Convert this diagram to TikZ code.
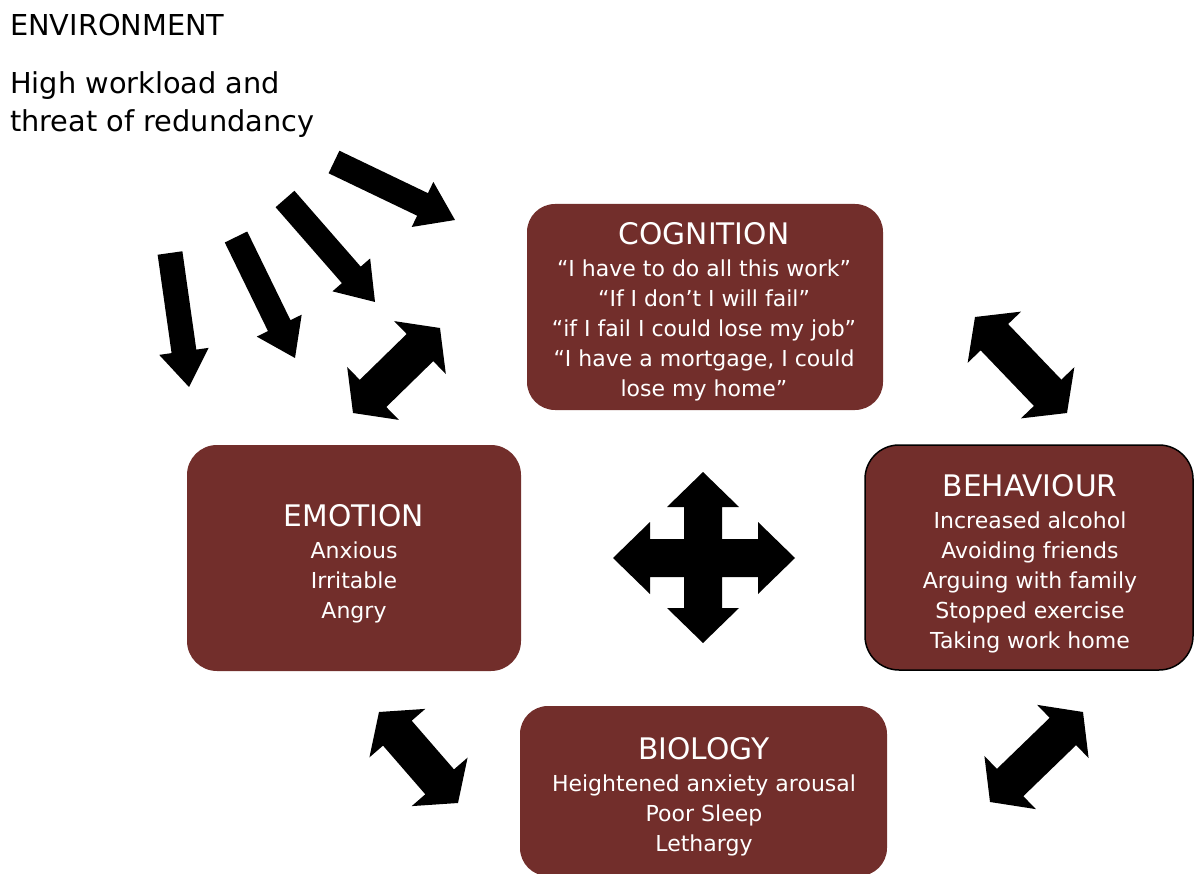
\documentclass[tikz,border=0pt]{standalone}
\usepackage{fontspec}
\setmainfont{DejaVu Sans}
\usetikzlibrary{calc}
\definecolor{boxred}{RGB}{114,46,43}

% single-headed block arrow: #1 tail, #2 tip, #3 shaft half width, #4 head half width, #5 head length
\newcommand{\blockarrow}[5]{%
  \coordinate (hb) at ($(#2)!#5!(#1)$);
  \fill[black] ($(#1)!#3!90:(#2)$) -- ($(hb)!#3!-90:(#1)$) -- ($(hb)!#4!-90:(#1)$) -- (#2)
     -- ($(hb)!#4!90:(#1)$) -- ($(hb)!#3!90:(#1)$) -- ($(#1)!#3!-90:(#2)$) -- cycle;
}
% double-headed block arrow
\newcommand{\dblarrow}[5]{%
  \coordinate (ha) at ($(#1)!#5!(#2)$);
  \coordinate (hb) at ($(#2)!#5!(#1)$);
  \fill[black] (#1) -- ($(ha)!#4!90:(#2)$) -- ($(ha)!#3!90:(#2)$) -- ($(hb)!#3!-90:(#1)$)
     -- ($(hb)!#4!-90:(#1)$) -- (#2) -- ($(hb)!#4!90:(#1)$) -- ($(hb)!#3!90:(#1)$)
     -- ($(ha)!#3!-90:(#2)$) -- ($(ha)!#4!-90:(#2)$) -- cycle;
}

\begin{document}
\begin{tikzpicture}[x=1pt,y=-1pt,
  box/.style={fill=boxred, rounded corners=28pt, inner sep=0pt},
  boxtext/.style={text=white, align=center, inner sep=0pt,
    font=\fontsize{22}{30}\selectfont},
  boxtitle/.style={font=\fontsize{29.7}{30}\selectfont},
  envtext/.style={text=black, align=left, inner sep=0pt,
    font=\fontsize{28.8}{38}\selectfont}]
\useasboundingbox (0,0) rectangle (1194,874);

% environment text
\node[envtext, anchor=base west] (env) at (10,36) {ENVIRONMENT};
\node[envtext, anchor=base west] (envA) at (10,94) {High workload and};
\node[envtext, anchor=base west] (envB) at (10,132) {threat of redundancy};

% boxes
\node[box, minimum width=356pt, minimum height=206pt] (cogbox) at (705,307) {};
\node[box, minimum width=334pt, minimum height=226pt, rounded corners=30pt] (emobox) at (354,558) {};
\node[box, draw=black, line width=1.5pt, minimum width=328pt, minimum height=225pt, rounded corners=34pt] (behbox) at (1029,557.5) {};
\node[box, minimum width=367pt, minimum height=170pt] (biobox) at (703.5,791) {};

% box texts
\node[boxtext] (cogtext) at (704,312) {{\fontsize{29.7}{30}\selectfont COGNITION}\\[2pt]
  “I have to do all this work”\\
  “If I don’t I will fail”\\
  “if I fail I could lose my job”\\
  “I have a mortgage, I could\\
  lose my home”};
\node[boxtext] (emotext) at (354,564) {{\fontsize{29.7}{30}\selectfont EMOTION}\\[2pt]
  Anxious\\ Irritable\\ Angry};
\node[boxtext] (behtext) at (1030,564) {{\fontsize{29.7}{30}\selectfont BEHAVIOUR}\\[2pt]
  Increased alcohol\\ Avoiding friends\\ Arguing with family\\ Stopped exercise\\ Taking work home};
\node[boxtext] (biotext) at (704,796.5) {{\fontsize{29.7}{30}\selectfont BIOLOGY}\\[2pt]
  Heightened anxiety arousal\\ Poor Sleep\\ Lethargy};

% environment arrows
\coordinate (e1a) at (334,162); \coordinate (e1b) at (455,220);
\coordinate (e2a) at (285,199); \coordinate (e2b) at (375,302);
\coordinate (e3a) at (236,237); \coordinate (e3b) at (295,358);
\coordinate (e4a) at (170,253); \coordinate (e4b) at (189,387);
\blockarrow{e1a}{e1b}{12.5pt}{25pt}{36pt}
\blockarrow{e2a}{e2b}{12.5pt}{25pt}{36pt}
\blockarrow{e3a}{e3b}{12.5pt}{25pt}{36pt}
\blockarrow{e4a}{e4b}{12.5pt}{25pt}{36pt}

% double arrows
\coordinate (d1a) at (353,413); \coordinate (d1b) at (440,328);
\coordinate (d2a) at (975,317); \coordinate (d2b) at (1067,413);
\coordinate (d3a) at (379,712); \coordinate (d3b) at (458,803);
\coordinate (d4a) at (1083,712); \coordinate (d4b) at (990,802);
\dblarrow{d1a}{d1b}{19pt}{37pt}{28pt}
\dblarrow{d2a}{d2b}{19pt}{37pt}{28pt}
\dblarrow{d3a}{d3b}{19pt}{37pt}{28pt}
\dblarrow{d4a}{d4b}{19pt}{37pt}{28pt}

% four-way arrow
\coordinate (cross) at (703,558);
\begin{scope}[shift={(cross)}]
\fill[black] (0,-86) -- (36,-51) -- (19,-51) -- (19,-19) -- (55,-19) -- (55,-36) -- (92,0)
  -- (55,36) -- (55,19) -- (19,19) -- (19,50) -- (36,50) -- (0,85) -- (-36,50) -- (-19,50)
  -- (-19,19) -- (-53,19) -- (-53,36) -- (-90,0) -- (-53,-36) -- (-53,-19) -- (-19,-19)
  -- (-19,-51) -- (-36,-51) -- cycle;
\end{scope}
\end{tikzpicture}
\end{document}
